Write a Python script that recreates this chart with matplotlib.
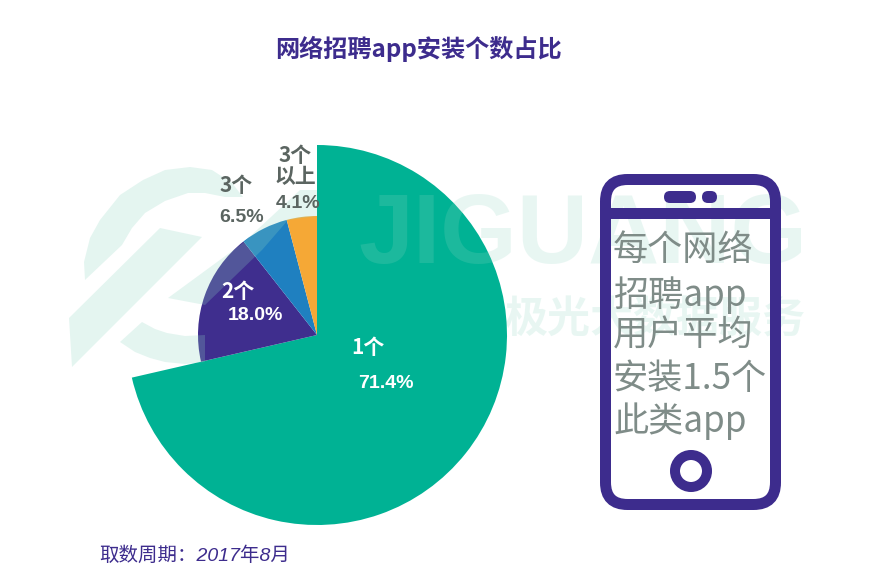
import matplotlib
matplotlib.use("Agg")
import matplotlib.pyplot as plt
from matplotlib.patches import Polygon, FancyBboxPatch, Circle

# ---------- data ----------
categories = ["1个", "2个", "3个", "3个\n以上"]
shares = [71.4, 18.0, 6.5, 4.1]
share_labels = ["71.4%", "18.0%", "6.5%", "4.1%"]
title = "网络招聘app安装个数占比"
source = "取数周期：2017年8月"
phone_lines = ["每个网络", "招聘app", "用户平均", "安装1.5个", "此类app"]

# ---------- style ----------
W, H = 869, 587
colors = ["#00b294", "#3f2e8e", "#1f80c0", "#f5a836"]
radii = [190, 119, 119, 119]
PURPLE = "#3d2c8d"
CJK = "Noto Sans CJK SC"
LAT = ["Liberation Sans", CJK]
WM = dict(color="#8fd6c2", alpha=0.24, zorder=2, lw=0)

fig = plt.figure(figsize=(W / 100, H / 100), dpi=100)
ax = fig.add_axes([0, 0, 1, 1])


def Y(y):
    return H - y


# pie
wedges, _ = ax.pie(shares, colors=colors, startangle=90, counterclock=False,
                   center=(317, Y(335)), radius=190,
                   wedgeprops=dict(lw=0, zorder=1))
for w, r in zip(wedges, radii):
    w.set_radius(r)
ax.set_xlim(0, W)
ax.set_ylim(0, H)
ax.set_aspect("equal")
ax.set_axis_off()


# watermark logo
def poly(pts):
    ax.add_patch(Polygon([(x, Y(y)) for x, y in pts], closed=True, **WM))


poly([(160, 228), (202, 237), (72, 367), (69, 318)])
poly([(168, 298), (243, 243), (300, 190), (317, 190), (317, 216), (288, 220),
      (262, 250), (205, 305)])
poly([(85, 280), (84, 262), (90, 238), (100, 220), (120, 195), (143, 180), (165, 170),
      (190, 167), (212, 170), (232, 183), (243, 197), (225, 197), (205, 193), (188, 193),
      (165, 201), (145, 213), (132, 228), (122, 245)])
poly([(120, 342), (142, 322), (155, 329), (167, 333), (185, 336), (205, 335),
      (205, 362), (185, 364), (165, 362), (150, 358), (135, 352)])
ax.text(583, Y(238), "JIGUANG", fontfamily="Liberation Sans", fontweight="bold",
        fontsize=71, ha="center", va="center", color=WM["color"], alpha=0.2, zorder=2)
ax.text(655, Y(320), "极光大数据服务", fontfamily=CJK, fontweight="bold",
        fontsize=31, ha="center", va="center", color=WM["color"], alpha=0.2, zorder=2)

# phone outline
ax.add_patch(FancyBboxPatch((605.5 + 22, Y(504.5) + 22), 170 - 44, 325 - 44,
                            boxstyle="round,pad=22,rounding_size=22",
                            fc="none", ec=PURPLE, lw=11 * 0.72, zorder=3))
ax.add_patch(Polygon([(606, Y(208)), (776, Y(208)), (776, Y(219)), (606, Y(219))],
                     fc=PURPLE, lw=0, zorder=3))
ax.add_patch(FancyBboxPatch((670, Y(203) + 6), 20, 0,
                            boxstyle="round,pad=6,rounding_size=6",
                            fc=PURPLE, lw=0, zorder=3))
ax.add_patch(FancyBboxPatch((708, Y(203) + 6), 3, 0,
                            boxstyle="round,pad=6,rounding_size=6",
                            fc=PURPLE, lw=0, zorder=3))
ax.add_patch(Circle((691, Y(471)), 16, fc="none", ec=PURPLE, lw=10 * 0.72, zorder=3))

# phone text
for line, y in zip(phone_lines, [251, 295, 336, 379, 421]):
    ax.text(613, Y(y), line, fontfamily=CJK, fontsize=25.3, color="#7f8c88",
            ha="left", va="center", zorder=4)

# title and source
ax.text(418, Y(49), title, fontfamily=CJK, fontweight="bold", fontsize=17.4,
        color=PURPLE, ha="center", va="center", zorder=4)
ax.text(195, Y(556), source, fontfamily=LAT, style="italic", fontsize=14,
        color=PURPLE, ha="center", va="center", zorder=4)

# slice labels
cat_pos = [(368, 347), (238, 291), (236, 186), (295, 166)]
pct_pos = [(386, 383), (255, 316), (242, 218), (298, 204)]
lab_colors = ["white", "white", "#5b6561", "#5b6561"]
for c, p, cp, pp, col in zip(categories, share_labels, cat_pos, pct_pos, lab_colors):
    ax.text(cp[0], Y(cp[1]), c, fontfamily=CJK, fontweight="bold", fontsize=15,
            color=col, ha="center", va="center", zorder=5, linespacing=1.0)
    ax.text(pp[0], Y(pp[1]), p, fontfamily=LAT, fontweight="bold", fontsize=14,
            color=col, ha="center", va="center", zorder=5)

fig.savefig("out.png", dpi=100)
